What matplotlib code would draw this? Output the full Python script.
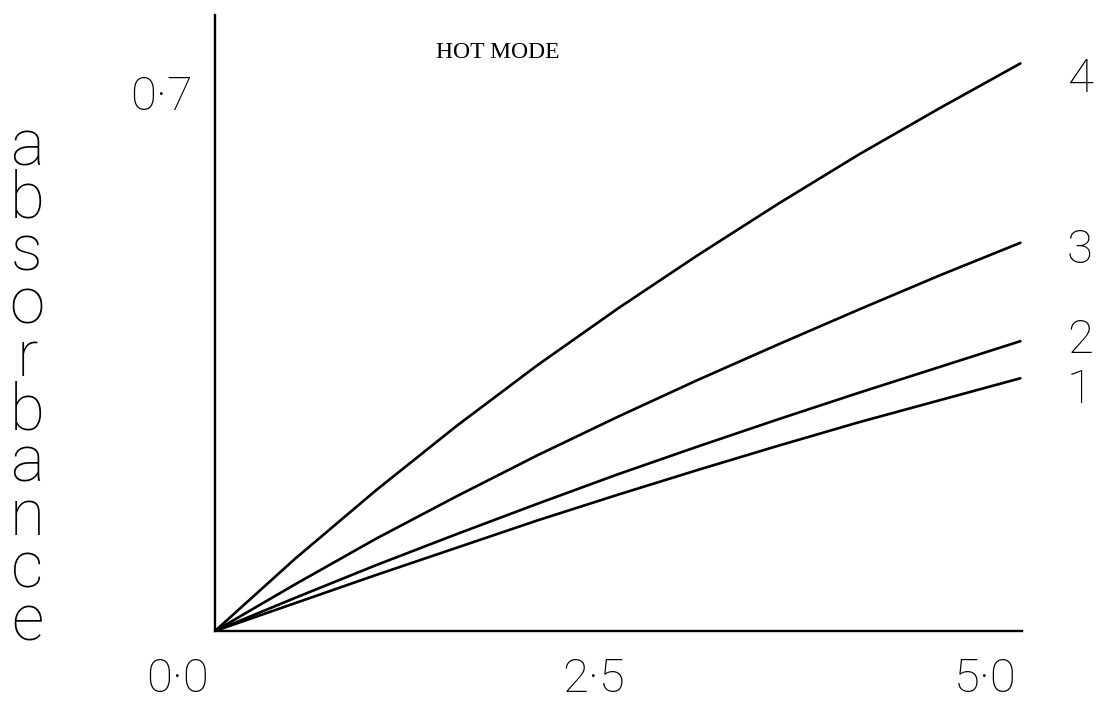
import matplotlib
matplotlib.use("Agg")
import matplotlib.pyplot as plt

# concentration axis (read at regular steps) and absorbance of each curve
conc = [0, 0.5, 1.0, 1.5, 2.0, 2.5, 3.0, 3.5, 4.0, 4.5, 5.0]
curve_1 = [0, 0.037, 0.074, 0.110, 0.146, 0.180, 0.213, 0.245, 0.276, 0.305, 0.334]
curve_2 = [0, 0.044, 0.087, 0.128, 0.168, 0.207, 0.244, 0.280, 0.315, 0.349, 0.383]
curve_3 = [0, 0.062, 0.122, 0.178, 0.232, 0.283, 0.332, 0.379, 0.425, 0.470, 0.513]
curve_4 = [0, 0.096, 0.186, 0.271, 0.351, 0.426, 0.497, 0.565, 0.630, 0.691, 0.750]
curve_names = ["1", "2", "3", "4"]

x_tick_labels = ["0·0", "2·5", "5·0"]
x_tick_pos = [-0.23, 2.35, 4.78]
y_tick_label = "0·7"
y_label = "absorbance"

W, H = 1106, 720
FONT = "Roboto"
WEIGHT = "light"


def px(x, y):
    """pixel position -> figure fraction"""
    return x / W, 1 - y / H


fig = plt.figure(figsize=(W / 100, H / 100), dpi=100)
ax = fig.add_axes([215 / W, 1 - 631 / H, (1022 - 215) / W, (631 - 15) / H])

for vals in [curve_1, curve_2, curve_3, curve_4]:
    ax.plot(conc, vals, color="black", lw=1.9, solid_capstyle="round")

ax.set_xlim(0, 5.01)
ax.set_ylim(0, 0.814)
ax.set_xticks([])
ax.set_yticks([])
for side in ["top", "right"]:
    ax.spines[side].set_visible(False)
for side in ["left", "bottom"]:
    ax.spines[side].set_linewidth(1.7)
    ax.spines[side].set_color("black")

# curve numbers at the right ends
label_y = [0.318, 0.384, 0.503, 0.730]
for name, yv in zip(curve_names, label_y):
    ax.text(5.37, yv, name, fontsize=34, family=FONT, fontweight=WEIGHT,
            ha="center", va="center", clip_on=False)

# hand-lettered tick values
for lab, xv in zip(x_tick_labels, x_tick_pos):
    ax.text(xv, -0.064, lab, fontsize=34, family=FONT, fontweight=WEIGHT,
            ha="center", va="center", clip_on=False)
ax.text(-0.33, 0.705, y_tick_label, fontsize=34, family=FONT,
        fontweight=WEIGHT, ha="center", va="center", clip_on=False)

fig.text(*px(498, 53), "HOT MODE", fontsize=17, family="Liberation Serif",
         ha="center", va="center")

# stacked y label, letters placed one under another
for i, ch in enumerate(y_label):
    fig.text(*px(27, 165 + i * 52.8), ch, fontsize=46, family=FONT,
             fontweight=WEIGHT, ha="center", va="baseline")

fig.savefig("out.png", dpi=100)
